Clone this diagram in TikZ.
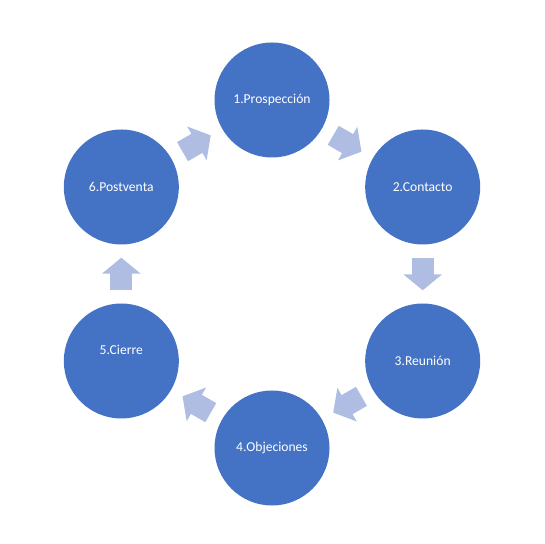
\documentclass[tikz,border=0pt]{standalone}
\usepackage{fontspec}
\setmainfont{Carlito}
\usetikzlibrary{arrows.meta,positioning}
\definecolor{stageblue}{RGB}{68,114,196}
\definecolor{flowblue}{RGB}{176,189,226}
\tikzstyle{stage} = [circle, fill=stageblue, text=white, minimum size=115pt, inner sep=0pt, font=\fontsize{13.6}{16}\selectfont]
\tikzstyle{stage5} = [text depth=22pt]
\tikzstyle{cyclearrow} = [draw, line width=22pt, color=flowblue, -{Triangle[length=16pt,width=38pt]}, shorten <=13pt, shorten >=13pt]
\newcommand{\stage}[2]{node (s#1) [stage,stage#1/.try] {#2}}
\begin{document}
\begin{tikzpicture}
\useasboundingbox (0,0) rectangle (545pt,543pt);
\coordinate (hub) at (272pt,269pt);
\path (hub)+(90:174pt) \stage{1}{1.Prospección};
\path (hub)+(30:174pt) \stage{2}{2.Contacto};
\path (hub)+(-30:174pt) \stage{3}{3.Reunión};
\path (hub)+(-90:174pt) \stage{4}{4.Objeciones};
\path (hub)+(-150:174pt) \stage{5}{5.Cierre};
\path (hub)+(150:174pt) \stage{6}{6.Postventa};

\path [cyclearrow] (s1) -- (s2);
\path [cyclearrow] (s2) -- (s3);
\path [cyclearrow] (s3) -- (s4);
\path [cyclearrow] (s4) -- (s5);
\path [cyclearrow] (s5) -- (s6);
\path [cyclearrow] (s6) -- (s1);
\end{tikzpicture}
\end{document}
